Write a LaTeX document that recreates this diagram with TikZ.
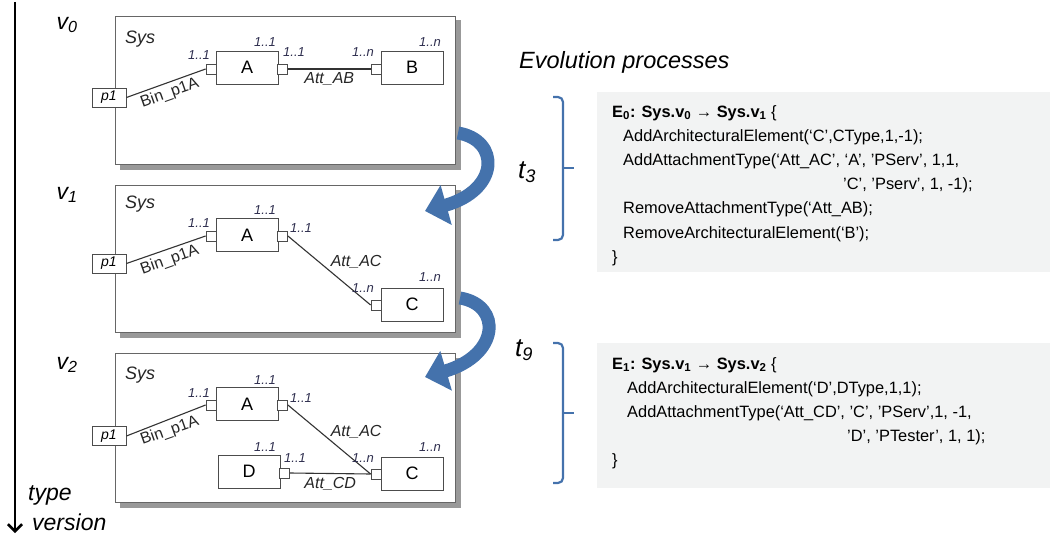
\documentclass[tikz,border=0pt]{standalone}
\usepackage{fontspec}
\setmainfont{Liberation Sans}
\usetikzlibrary{arrows.meta,backgrounds}

\definecolor{evoblue}{HTML}{4472AC}
\definecolor{codebg}{HTML}{F2F3F3}
\definecolor{multtext}{HTML}{2F2F4F}
\newcommand{\fsz}[1]{\fontsize{#1}{#1}\selectfont}

\begin{document}
\begin{tikzpicture}[x=1pt, y=-1pt,
  sysbox/.style={draw=black!60, line width=1.2pt, fill=white, anchor=north west, minimum width=340pt, inner sep=0pt},
  sysshadow/.style={fill=black!40},
  elem/.style={draw=black!70, line width=0.9pt, fill=white, minimum width=62pt, minimum height=33pt, inner sep=0pt, font=\fsz{18}},
  port/.style={draw=black!70, line width=0.8pt, fill=white, minimum size=10pt, inner sep=0pt},
  pbox/.style={draw=black!70, line width=0.9pt, fill=white, minimum width=34pt, minimum height=19pt, inner sep=0pt, font=\itshape\fsz{14}},
  mult/.style={font=\itshape\fsz{13}, text=multtext, inner sep=0pt},
  syslbl/.style={font=\itshape\fsz{18}, text=black!85, inner sep=0pt, anchor=west},
  conn/.style={draw=black!80, line width=1.1pt},
  attlbl/.style={font=\itshape\fsz{16}, text=black!85, inner sep=1pt},
  binlbl/.style={font=\fsz{16}, text=black!85, inner sep=3pt, rotate=19.6, anchor=north},
  verlbl/.style={font=\itshape\fsz{23}, inner sep=0pt},
  evoarrow/.style={draw=evoblue, line width=13pt, -{Triangle[length=22pt,width=40pt]}},
  brace/.style={draw=evoblue, line width=2.2pt, rounded corners=5pt},
  codebox/.style={fill=codebg, anchor=north west, minimum width=453pt, inner sep=0pt},
  codetext/.style={font=\fontsize{16.4}{24.2}\selectfont, align=left, anchor=north west, inner sep=0pt}
]
\useasboundingbox (0,0) rectangle (1052,535);

% time axis
\coordinate (axtop) at (15,2);
\coordinate (axbot) at (15,533);
\draw[line width=2.6pt, -{Straight Barb[length=7pt,width=14pt]}] (axtop) -- (axbot);
\node[verlbl, anchor=west] (typelbl) at (28,495) {type};
\node[verlbl, anchor=west] (verslbl) at (32,522) {version};

\node[verlbl] (v0) at (67,25) {v\textsubscript{\itshape 0}};
\node[verlbl] (v1) at (67,195) {v\textsubscript{\itshape 1}};
\node[verlbl] (v2) at (67,365) {v\textsubscript{\itshape 2}};

% version 0
\node[sysbox, minimum height=148pt] (sys0) at (115,16) {};
\node[syslbl] (sys0lbl) at (125,39) {Sys};
\node[elem] (A0) at (247,67.5) {A};
\node[elem] (B0) at (412,67.5) {B};
\node[port] (a0l) at (211,69) {};
\node[port] (a0r) at (282.5,69) {};
\node[port] (b0l) at (376,69) {};
\node[pbox] (p0) at (109,97.5) {p1};

\draw[conn] (p0.east) -- (a0l.west) node[midway, binlbl] {Bin\_p1A};
\draw[conn] (a0r.east) -- (b0l.west) node[midway, below=2pt, attlbl] {Att\_AB};

\node[mult] (m01) at (199,55) {1..1};
\node[mult] (m02) at (265,42) {1..1};
\node[mult] (m03) at (294,52) {1..1};
\node[mult] (m04) at (363,52) {1..n};
\node[mult] (m05) at (430,42) {1..n};

% version 1
\node[sysbox, minimum height=147pt] (sys1) at (115,185) {};
\node[syslbl] (sys1lbl) at (125,204) {Sys};
\node[elem] (A1) at (247,235) {A};
\node[elem] (C1) at (412,304.5) {C};
\node[port] (a1l) at (211,236) {};
\node[port] (a1r) at (282.5,236) {};
\node[port] (c1l) at (376,305) {};
\node[pbox] (p1) at (109,263.5) {p1};

\draw[conn] (p1.east) -- (a1l.west) node[midway, binlbl] {Bin\_p1A};
\draw[conn] (a1r.east) -- (c1l.west) node[midway, anchor=south west, attlbl] {Att\_AC};

\node[mult] (m11) at (199,223) {1..1};
\node[mult] (m12) at (265,210) {1..1};
\node[mult] (m13) at (301,228) {1..1};
\node[mult] (m14) at (363,288) {1..n};
\node[mult] (m15) at (430,277) {1..n};

% version 2
\node[sysbox, minimum height=149pt] (sys2) at (115,353) {};
\node[syslbl] (sys2lbl) at (125,375) {Sys};
\node[elem] (A2) at (247,404) {A};
\node[elem] (D2) at (249,471.5) {D};
\node[elem] (C2) at (412,473.5) {C};
\node[port] (a2l) at (211,405) {};
\node[port] (a2r) at (282.5,405) {};
\node[port] (d2r) at (284.5,473) {};
\node[port] (c2l) at (376,474) {};
\node[pbox] (p2) at (109,436) {p1};

\draw[conn] (p2.east) -- (a2l.west) node[midway, binlbl] {Bin\_p1A};
\draw[conn] (a2r.east) -- (c2l.west) node[midway, anchor=south west, attlbl] {Att\_AC};
\draw[conn] (d2r.east) -- (c2l.west) node[midway, below=2pt, attlbl] {Att\_CD};

\node[mult] (m21) at (199,393) {1..1};
\node[mult] (m22) at (265,380) {1..1};
\node[mult] (m23) at (301,398) {1..1};
\node[mult] (m24) at (265,447) {1..1};
\node[mult] (m25) at (295,458) {1..1};
\node[mult] (m26) at (363,458) {1..n};
\node[mult] (m27) at (430,447) {1..n};

% shadows of the three systems
\begin{scope}[on background layer]
\foreach \s in {sys0,sys1,sys2}
  \fill[sysshadow] ([shift={(4.5,4.5)}]\s.north west) rectangle ([shift={(4.5,4.5)}]\s.south east);
\end{scope}

% evolution arrows
\coordinate (e0s) at (458,133);
\coordinate (e0e) at (425,211);
\coordinate (e1s) at (460,298);
\coordinate (e1e) at (425,377);
\draw[evoarrow] (e0s) .. controls (500,140) and (500,190) .. (e0e);
\draw[evoarrow] (e1s) .. controls (502,305) and (500,355) .. (e1e);
\node[font=\itshape\fsz{26}, inner sep=0pt] (t3) at (527,172) {t\textsubscript{\itshape 3}};
\node[font=\itshape\fsz{26}, inner sep=0pt] (t9) at (524,350) {t\textsubscript{\itshape 9}};

% evolution processes
\node[font=\itshape\fsz{23.5}, anchor=west, inner sep=0pt] (evotitle) at (519,62) {Evolution processes};

\draw[brace] (553,97) -- (563,97) -- (563,240) -- (553,240);
\draw[brace] (563,168) -- (574,168);
\draw[brace] (553,343) -- (563,343) -- (563,483) -- (553,483);
\draw[brace] (563,413) -- (574,413);

\node[codebox, minimum height=180pt] (code0) at (597,92) {};
\node[codetext] (code0txt) at (612,105) {\textbf{E\textsubscript{0}: Sys.v\textsubscript{0} → Sys.v\textsubscript{1}} \{\\
\hspace*{11pt}AddArchitecturalElement(‘C’,CType,1,-1);\\
\hspace*{11pt}AddAttachmentType(‘Att\_AC’, ‘A’, ’PServ’, 1,1,\\
\hspace*{231pt}’C’, ’Pserv’, 1, -1);\\
\hspace*{11pt}RemoveAttachmentType(‘Att\_AB);\\
\hspace*{11pt}RemoveArchitecturalElement(‘B’);\\
\}};

\node[codebox, minimum height=145pt] (code1) at (597,343) {};
\node[codetext] (code1txt) at (612,357) {\textbf{E\textsubscript{1}: Sys.v\textsubscript{1} → Sys.v\textsubscript{2}} \{\\
\hspace*{15pt}AddArchitecturalElement(‘D’,DType,1,1);\\
\hspace*{15pt}AddAttachmentType(‘Att\_CD’, ’C’, ’PServ’,1, -1,\\
\hspace*{235pt}’D’, ’PTester’, 1, 1);\\
\}};
\end{tikzpicture}
\end{document}
